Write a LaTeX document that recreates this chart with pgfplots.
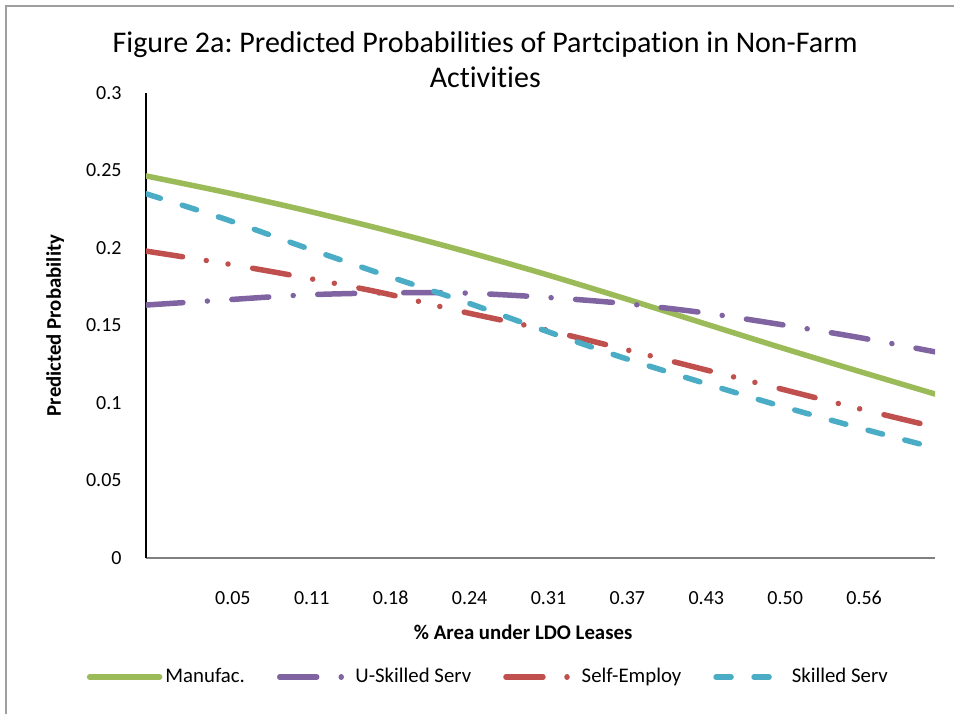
\documentclass[border=0pt]{standalone}
\usepackage{pgfplots}
\pgfplotsset{compat=1.18}
\usepackage{fontspec}
\setmainfont{Carlito}[Ligatures={NoCommon}]
\frenchspacing

\definecolor{manu}{RGB}{155,187,89}
\definecolor{uskill}{RGB}{128,100,162}
\definecolor{selfemp}{RGB}{192,80,77}
\definecolor{skill}{RGB}{75,172,198}

% values at the 11 category positions
\pgfplotstableread{
x   manu    uskill  selfemp skill
0   0.2465  0.1632  0.1980  0.2350
1   0.2360  0.1665  0.1900  0.2187
2   0.2245  0.1697  0.1810  0.2006
3   0.2120  0.1710  0.1710  0.1830
4   0.1985  0.1710  0.1590  0.1660
5   0.1840  0.1684  0.1480  0.1477
6   0.1685  0.1645  0.1355  0.1300
7   0.1525  0.1587  0.1226  0.1140
8   0.1365  0.1510  0.1097  0.0987
9   0.1210  0.1426  0.0968  0.0845
10  0.1058  0.1330  0.0845  0.0710
}\datatable

\begin{document}
\begin{tikzpicture}
\useasboundingbox (-73pt,-77.5pt) rectangle (404pt,279pt);
\draw[gray!75, line width=1pt] (-70pt,-90pt) rectangle (420pt,276pt);
\begin{axis}[
  at={(0,0)}, anchor=south west,
  scale only axis,
  width=394.5pt, height=232.5pt,
  xmin=0, xmax=10,
  ymin=0, ymax=0.3,
  axis x line=bottom, axis y line=left,
  x axis line style={-, gray, line width=0.75pt},
  y axis line style={-, black, line width=1.25pt},
  major tick length=0pt,
  xtick={1,2,3,4,5,6,7,8,9},
  xticklabels={0.05,0.11,0.18,0.24,0.31,0.37,0.43,0.50,0.56},
  ytick={0,0.05,0.1,0.15,0.2,0.25,0.3},
  yticklabels={0,0.05,0.1,0.15,0.2,0.25,0.3},
  font=\fontsize{10}{12}\selectfont,
  /pgf/number format/assume math mode=true,
  xticklabel style={anchor=center, yshift=-20pt, xshift=4pt},
  yticklabel style={anchor=east, xshift=-8.7pt},
  xlabel={\textbf{\% Area under LDO Leases}},
  ylabel={\textbf{Predicted Probability}},
  xlabel style={at={(axis description cs:0.478,-0.159)}, anchor=center,
    font=\fontsize{10.4}{12}\selectfont},
  ylabel style={at={(axis description cs:-0.115,0.5)}, anchor=center, rotate=0,
    font=\fontsize{10.4}{12}\selectfont},
  title={Figure 2a: Predicted Probabilities of Partcipation in Non-Farm\\Activities},
  title style={at={(axis description cs:0.43,1)}, anchor=center, yshift=10.5pt,
    align=center, font=\fontsize{15}{17.5}\selectfont},
  legend columns=4,
  legend image code/.code={\draw[#1] (0pt,0pt) -- (35pt,0pt);},
  legend style={at={(axis description cs:0.4346,-0.256)}, anchor=center,
    draw=none, fill=none, font=\fontsize{10.4}{12}\selectfont,
    nodes={inner sep=1.5pt},
    /tikz/every even column/.append style={column sep=14.5pt}},
  every axis plot/.append style={line width=2.75pt, line cap=round, smooth, no markers},
]
\addplot[manu] table[x=x, y=manu] {\datatable};
\addlegendentry{Manufac.}
\addplot[uskill, dash pattern=on 18.5pt off 12.25pt on 0.01pt off 12.25pt] table[x=x, y=uskill] {\datatable};
\addlegendentry{U-Skilled Serv}
\addplot[selfemp, dash pattern=on 18.5pt off 12pt on 0.01pt off 11pt on 0.01pt off 12.5pt] table[x=x, y=selfemp] {\datatable};
\addlegendentry{Self-Employ}
\addplot[skill, dash pattern=on 7.5pt off 11.5pt] table[x=x, y=skill] {\datatable};
\addlegendentry{Skilled Serv}
\end{axis}
\end{tikzpicture}
\end{document}
